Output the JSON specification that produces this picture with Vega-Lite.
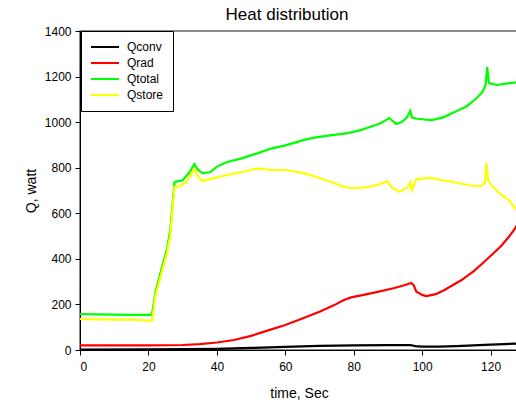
{
  "$schema": "https://vega.github.io/schema/vega-lite/v6.json",
  "autosize": "none",
  "padding": {"left": 80, "top": 31, "right": 0, "bottom": 55},
  "width": 438,
  "height": 319,
  "title": {"text": "Heat distribution", "fontSize": 17, "fontWeight": "normal", "font": "Liberation Sans", "color": "black", "offset": 1, "dx": -12},
  "config": {
    "view": {"stroke": "#666666", "strokeWidth": 1.5},
    "font": "Liberation Sans"
  },
  "data": {"values": [
    {"t": 0, "Q": 2, "s": "Qconv"}, {"t": 20, "Q": 3, "s": "Qconv"}, {"t": 30, "Q": 4, "s": "Qconv"}, {"t": 40, "Q": 5, "s": "Qconv"}, {"t": 50, "Q": 9, "s": "Qconv"}, {"t": 60, "Q": 14, "s": "Qconv"}, {"t": 70, "Q": 18, "s": "Qconv"}, {"t": 80, "Q": 20, "s": "Qconv"}, {"t": 90, "Q": 21, "s": "Qconv"}, {"t": 96.5, "Q": 22, "s": "Qconv"}, {"t": 98, "Q": 17, "s": "Qconv"}, {"t": 100, "Q": 15, "s": "Qconv"}, {"t": 105, "Q": 15, "s": "Qconv"}, {"t": 110, "Q": 17, "s": "Qconv"}, {"t": 115, "Q": 20, "s": "Qconv"}, {"t": 120, "Q": 24, "s": "Qconv"}, {"t": 124, "Q": 26, "s": "Qconv"}, {"t": 128, "Q": 28, "s": "Qconv"},

    {"t": 0, "Q": 20, "s": "Qrad"}, {"t": 10, "Q": 20, "s": "Qrad"}, {"t": 20, "Q": 20, "s": "Qrad"}, {"t": 30, "Q": 22, "s": "Qrad"}, {"t": 35, "Q": 26, "s": "Qrad"}, {"t": 40, "Q": 33, "s": "Qrad"}, {"t": 45, "Q": 44, "s": "Qrad"}, {"t": 50, "Q": 62, "s": "Qrad"}, {"t": 55, "Q": 86, "s": "Qrad"}, {"t": 60, "Q": 110, "s": "Qrad"}, {"t": 64.6, "Q": 136, "s": "Qrad"}, {"t": 70, "Q": 168, "s": "Qrad"}, {"t": 74.3, "Q": 197, "s": "Qrad"}, {"t": 77, "Q": 218, "s": "Qrad"}, {"t": 79.2, "Q": 231, "s": "Qrad"}, {"t": 82.2, "Q": 240, "s": "Qrad"}, {"t": 87, "Q": 255, "s": "Qrad"}, {"t": 91.9, "Q": 272, "s": "Qrad"}, {"t": 95, "Q": 285, "s": "Qrad"}, {"t": 96.8, "Q": 294, "s": "Qrad"}, {"t": 97.5, "Q": 285, "s": "Qrad"}, {"t": 98.3, "Q": 256, "s": "Qrad"}, {"t": 100, "Q": 242, "s": "Qrad"}, {"t": 101.2, "Q": 237, "s": "Qrad"}, {"t": 104, "Q": 245, "s": "Qrad"}, {"t": 106.5, "Q": 263, "s": "Qrad"}, {"t": 109, "Q": 285, "s": "Qrad"}, {"t": 111.5, "Q": 307, "s": "Qrad"}, {"t": 115, "Q": 345, "s": "Qrad"}, {"t": 118, "Q": 385, "s": "Qrad"}, {"t": 121.2, "Q": 430, "s": "Qrad"}, {"t": 123, "Q": 455, "s": "Qrad"}, {"t": 125.3, "Q": 496, "s": "Qrad"}, {"t": 127, "Q": 530, "s": "Qrad"}, {"t": 128, "Q": 557, "s": "Qrad"},

    {"t": 0, "Q": 158, "s": "Qtotal"}, {"t": 5, "Q": 156, "s": "Qtotal"}, {"t": 10, "Q": 155, "s": "Qtotal"}, {"t": 15, "Q": 154, "s": "Qtotal"}, {"t": 21, "Q": 154, "s": "Qtotal"}, {"t": 21.5, "Q": 200, "s": "Qtotal"}, {"t": 22, "Q": 250, "s": "Qtotal"}, {"t": 23.5, "Q": 338, "s": "Qtotal"}, {"t": 25.5, "Q": 448, "s": "Qtotal"}, {"t": 26.4, "Q": 527, "s": "Qtotal"}, {"t": 27.6, "Q": 737, "s": "Qtotal"}, {"t": 28.5, "Q": 740, "s": "Qtotal"}, {"t": 30, "Q": 745, "s": "Qtotal"}, {"t": 32, "Q": 780, "s": "Qtotal"}, {"t": 33.4, "Q": 816, "s": "Qtotal"}, {"t": 34.5, "Q": 790, "s": "Qtotal"}, {"t": 35.8, "Q": 776, "s": "Qtotal"}, {"t": 38, "Q": 780, "s": "Qtotal"}, {"t": 40, "Q": 805, "s": "Qtotal"}, {"t": 43, "Q": 825, "s": "Qtotal"}, {"t": 47, "Q": 840, "s": "Qtotal"}, {"t": 52, "Q": 864, "s": "Qtotal"}, {"t": 55.8, "Q": 884, "s": "Qtotal"}, {"t": 60, "Q": 898, "s": "Qtotal"}, {"t": 65, "Q": 920, "s": "Qtotal"}, {"t": 68.4, "Q": 932, "s": "Qtotal"}, {"t": 72, "Q": 940, "s": "Qtotal"}, {"t": 78.3, "Q": 952, "s": "Qtotal"}, {"t": 82, "Q": 965, "s": "Qtotal"}, {"t": 86, "Q": 985, "s": "Qtotal"}, {"t": 88, "Q": 996, "s": "Qtotal"}, {"t": 90.4, "Q": 1018, "s": "Qtotal"}, {"t": 92.4, "Q": 992, "s": "Qtotal"}, {"t": 94, "Q": 1000, "s": "Qtotal"}, {"t": 95.5, "Q": 1020, "s": "Qtotal"}, {"t": 96.5, "Q": 1049, "s": "Qtotal"}, {"t": 97, "Q": 1020, "s": "Qtotal"}, {"t": 98.5, "Q": 1015, "s": "Qtotal"}, {"t": 102.7, "Q": 1009, "s": "Qtotal"}, {"t": 106, "Q": 1020, "s": "Qtotal"}, {"t": 109.5, "Q": 1044, "s": "Qtotal"}, {"t": 113, "Q": 1070, "s": "Qtotal"}, {"t": 115.3, "Q": 1097, "s": "Qtotal"}, {"t": 117.5, "Q": 1130, "s": "Qtotal"}, {"t": 118.5, "Q": 1160, "s": "Qtotal"}, {"t": 119, "Q": 1242, "s": "Qtotal"}, {"t": 119.5, "Q": 1171, "s": "Qtotal"}, {"t": 121.8, "Q": 1163, "s": "Qtotal"}, {"t": 125, "Q": 1170, "s": "Qtotal"}, {"t": 128, "Q": 1176, "s": "Qtotal"},

    {"t": 0, "Q": 136, "s": "Qstore"}, {"t": 5, "Q": 134, "s": "Qstore"}, {"t": 10, "Q": 133, "s": "Qstore"}, {"t": 15, "Q": 133, "s": "Qstore"}, {"t": 21, "Q": 128, "s": "Qstore"}, {"t": 21.5, "Q": 175, "s": "Qstore"}, {"t": 22, "Q": 235, "s": "Qstore"}, {"t": 23.5, "Q": 320, "s": "Qstore"}, {"t": 25.5, "Q": 430, "s": "Qstore"}, {"t": 26.4, "Q": 505, "s": "Qstore"}, {"t": 27.6, "Q": 715, "s": "Qstore"}, {"t": 29, "Q": 718, "s": "Qstore"}, {"t": 31, "Q": 735, "s": "Qstore"}, {"t": 33.4, "Q": 794, "s": "Qstore"}, {"t": 34.5, "Q": 760, "s": "Qstore"}, {"t": 35.8, "Q": 741, "s": "Qstore"}, {"t": 38, "Q": 750, "s": "Qstore"}, {"t": 43, "Q": 768, "s": "Qstore"}, {"t": 47, "Q": 780, "s": "Qstore"}, {"t": 52, "Q": 797, "s": "Qstore"}, {"t": 55.8, "Q": 790, "s": "Qstore"}, {"t": 60, "Q": 790, "s": "Qstore"}, {"t": 65.5, "Q": 776, "s": "Qstore"}, {"t": 70, "Q": 755, "s": "Qstore"}, {"t": 73.4, "Q": 737, "s": "Qstore"}, {"t": 76, "Q": 722, "s": "Qstore"}, {"t": 78.6, "Q": 711, "s": "Qstore"}, {"t": 83, "Q": 713, "s": "Qstore"}, {"t": 87, "Q": 724, "s": "Qstore"}, {"t": 89.8, "Q": 741, "s": "Qstore"}, {"t": 91, "Q": 715, "s": "Qstore"}, {"t": 93.3, "Q": 695, "s": "Qstore"}, {"t": 95.7, "Q": 712, "s": "Qstore"}, {"t": 96.5, "Q": 737, "s": "Qstore"}, {"t": 97, "Q": 702, "s": "Qstore"}, {"t": 98.3, "Q": 750, "s": "Qstore"}, {"t": 102.7, "Q": 755, "s": "Qstore"}, {"t": 106, "Q": 745, "s": "Qstore"}, {"t": 110.6, "Q": 733, "s": "Qstore"}, {"t": 114, "Q": 722, "s": "Qstore"}, {"t": 117.4, "Q": 720, "s": "Qstore"}, {"t": 118.3, "Q": 735, "s": "Qstore"}, {"t": 118.8, "Q": 820, "s": "Qstore"}, {"t": 119.3, "Q": 741, "s": "Qstore"}, {"t": 122.4, "Q": 689, "s": "Qstore"}, {"t": 125.3, "Q": 658, "s": "Qstore"}, {"t": 128, "Q": 605, "s": "Qstore"}
  ]},
  "mark": {"type": "line", "strokeWidth": 2.2, "clip": true},
  "encoding": {
    "x": {"field": "t", "type": "quantitative",
      "scale": {"domain": [0, 128], "nice": false, "zero": false},
      "axis": {"title": "time, Sec", "values": [0, 20, 40, 60, 80, 100, 120], "grid": false,
        "domainColor": "black", "tickColor": "black", "tickSize": 5, "labelPadding": 6,
        "labelFontSize": 12, "labelColor": "black", "labelFont": "Liberation Sans",
        "titleFontSize": 14, "titleFontWeight": "normal", "titleColor": "black", "titleFont": "Liberation Sans", "titlePadding": 14}},
    "y": {"field": "Q", "type": "quantitative",
      "scale": {"domain": [0, 1400], "nice": false},
      "axis": {"title": "Q, watt", "format": "d", "values": [0, 200, 400, 600, 800, 1000, 1200, 1400], "grid": false,
        "domainColor": "black", "tickColor": "black", "tickSize": 5, "labelPadding": 4,
        "labelFontSize": 12, "labelColor": "black", "labelFont": "Liberation Sans",
        "titleFontSize": 14, "titleFontWeight": "normal", "titleColor": "black", "titleFont": "Liberation Sans", "titlePadding": 6}},
    "color": {"field": "s", "type": "nominal",
      "scale": {"domain": ["Qconv", "Qrad", "Qtotal", "Qstore"], "range": ["#000000", "#ff0000", "#00ff00", "#ffff00"]},
      "legend": {"title": null, "orient": "none", "legendX": 1, "legendY": 0,
        "strokeColor": "black", "fillColor": "white", "padding": 9, "cornerRadius": 0,
        "symbolType": "stroke", "symbolSize": 784, "symbolStrokeWidth": 2, "clipHeight": 14,
        "labelFontSize": 12, "labelColor": "black", "labelFont": "Liberation Sans", "labelOffset": 7, "rowPadding": 2}},
    "order": {"field": "t", "type": "quantitative"}
  }
}
